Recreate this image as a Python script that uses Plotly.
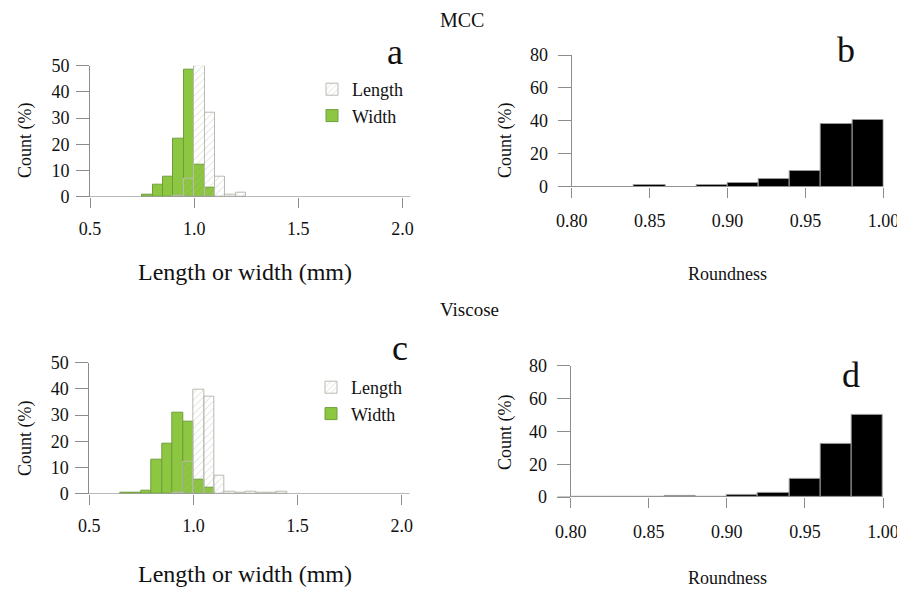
import plotly.graph_objects as go

# ---------------- data ----------------
# Panel a (MCC) : length / width histograms, bin width 0.05 mm, value = count (%)
mcc_width_bins = [0.75, 0.80, 0.85, 0.90, 0.95, 1.00, 1.05]
mcc_width_pct = [0.8, 4.5, 7.6, 22.3, 48.6, 12.4, 3.6]
mcc_length_bins = [0.90, 0.95, 1.00, 1.05, 1.10, 1.15, 1.20]
mcc_length_pct = [0.5, 7.0, 50.0, 32.2, 7.6, 0.6, 1.5]

# Panel c (Viscose)
vis_width_bins = [0.65, 0.70, 0.75, 0.80, 0.85, 0.90, 0.95, 1.00, 1.05]
vis_width_pct = [0.2, 0.3, 1.3, 12.9, 19.0, 31.1, 27.3, 5.5, 2.3]
vis_length_bins = [0.90, 0.95, 1.00, 1.05, 1.10, 1.15, 1.20, 1.25, 1.30, 1.35, 1.40]
vis_length_pct = [0.3, 12.2, 39.6, 37.0, 7.0, 0.8, 0.3, 0.8, 0.3, 0.3, 0.8]

size_bin_width = 0.05

# Panels b / d : roundness histograms, bin width 0.02
round_bins = [0.80, 0.82, 0.84, 0.86, 0.88, 0.90, 0.92, 0.94, 0.96, 0.98]
mcc_round_pct = [0.0, 0.0, 1.2, 0.0, 1.0, 2.0, 4.5, 9.7, 38.1, 40.5]
vis_round_pct = [0.0, 0.2, 0.0, 0.5, 0.0, 1.2, 2.6, 10.8, 32.3, 50.0]
round_bin_width = 0.02

size_ticks = [0.5, 1.0, 1.5, 2.0]
size_yticks = [0, 10, 20, 30, 40, 50]
round_ticks = [0.80, 0.85, 0.90, 0.95, 1.00]
round_yticks = [0, 20, 40, 60, 80]

# ---------------- style ----------------
W, H = 905, 591
OFF = 8  # page body margin offset in the rendered page
FONT = "Liberation Serif"
GREEN = "#8DC641"
GREEN_EDGE = "#6E9E3C"
HATCH = "rgba(130,140,120,0.75)"
HATCH_EDGE = "#B8BBB0"
AXIS = "#8C8C8C"


def px_x(p):
    return (p - OFF) / W


def px_y(p):
    return 1 - (p - OFF) / H


def centers(bins, w):
    return [b + w / 2 for b in bins]


fig = go.Figure()

# panel a
fig.add_trace(go.Bar(x=centers(mcc_width_bins, size_bin_width), y=mcc_width_pct, width=size_bin_width,
                     marker=dict(color=GREEN, line=dict(color=GREEN_EDGE, width=1)),
                     name="Width", legend="legend", legendrank=2, xaxis="x", yaxis="y"))
fig.add_trace(go.Bar(x=centers(mcc_length_bins, size_bin_width), y=mcc_length_pct, width=size_bin_width,
                     marker=dict(color="rgba(0,0,0,0)", line=dict(color=HATCH_EDGE, width=1),
                                 pattern=dict(shape="/", fgcolor=HATCH, bgcolor="rgba(255,255,255,0)",
                                              size=5, solidity=0.15)),
                     name="Length", legend="legend", legendrank=1, xaxis="x", yaxis="y"))
# panel c
fig.add_trace(go.Bar(x=centers(vis_width_bins, size_bin_width), y=vis_width_pct, width=size_bin_width,
                     marker=dict(color=GREEN, line=dict(color=GREEN_EDGE, width=1)),
                     name="Width", legend="legend2", legendrank=2, xaxis="x3", yaxis="y3"))
fig.add_trace(go.Bar(x=centers(vis_length_bins, size_bin_width), y=vis_length_pct, width=size_bin_width,
                     marker=dict(color="rgba(0,0,0,0)", line=dict(color=HATCH_EDGE, width=1),
                                 pattern=dict(shape="/", fgcolor=HATCH, bgcolor="rgba(255,255,255,0)",
                                              size=5, solidity=0.15)),
                     name="Length", legend="legend2", legendrank=1, xaxis="x3", yaxis="y3"))
# panel b
fig.add_trace(go.Bar(x=centers(round_bins, round_bin_width), y=mcc_round_pct, width=round_bin_width,
                     marker=dict(color="#000000", line=dict(color="#9A9A9A", width=1)),
                     showlegend=False, xaxis="x2", yaxis="y2"))
# panel d
fig.add_trace(go.Bar(x=centers(round_bins, round_bin_width), y=vis_round_pct, width=round_bin_width,
                     marker=dict(color="#000000", line=dict(color="#9A9A9A", width=1)),
                     showlegend=False, xaxis="x4", yaxis="y4"))

tickfont = dict(family=FONT, size=18, color="#111111")


def xax(domain, anchor, rng, ticks, fmt, standoff):
    return dict(domain=domain, anchor=anchor, range=rng, tickvals=ticks, tickformat=fmt,
                showline=False, showgrid=False, zeroline=False, ticks="outside", ticklen=10,
                tickcolor=AXIS, tickwidth=1, tickfont=tickfont, ticklabelstandoff=standoff,
                automargin=False, fixedrange=True)


def yax(domain, anchor, rng, ticks, standoff):
    return dict(domain=domain, anchor=anchor, range=rng, tickvals=ticks,
                showline=True, linecolor=AXIS, linewidth=1, showgrid=False, zeroline=False,
                ticks="outside", ticklen=13, tickcolor=AXIS, tickwidth=1, tickfont=tickfont,
                ticklabelstandoff=standoff, automargin=False, fixedrange=True)


layout = dict(
    width=W, height=H, margin=dict(l=0, r=0, t=0, b=0, pad=0, autoexpand=False),
    paper_bgcolor="white", plot_bgcolor="white", barmode="overlay", bargap=0,
    font=dict(family=FONT, color="#111111"),
    xaxis=xax([px_x(90), px_x(402.5)], "y", [0.5, 2.0], size_ticks, ".1f", 6),
    yaxis=yax([px_y(196.7), px_y(65.7)], "x", [0, 50], size_yticks, 3),
    xaxis2=xax([px_x(571.7), px_x(883.5)], "y2", [0.8, 1.0], round_ticks, ".2f", 8),
    yaxis2=yax([px_y(186.7), px_y(55)], "x2", [0, 80], round_yticks, 6),
    xaxis3=xax([px_x(89.3), px_x(401.7)], "y3", [0.5, 2.0], size_ticks, ".1f", 6),
    yaxis3=yax([px_y(493.7), px_y(362.7)], "x3", [0, 50], size_yticks, 3),
    xaxis4=xax([px_x(570.7), px_x(883)], "y4", [0.8, 1.0], round_ticks, ".2f", 8),
    yaxis4=yax([px_y(497), px_y(365.9)], "x4", [0, 80], round_yticks, 6),
    legend=dict(x=px_x(312), y=px_y(71), xanchor="left", yanchor="top",
                bgcolor="rgba(0,0,0,0)", font=dict(family=FONT, size=18, color="#111111")),
    legend2=dict(x=px_x(311), y=px_y(369), xanchor="left", yanchor="top",
                 bgcolor="rgba(0,0,0,0)", font=dict(family=FONT, size=18, color="#111111")),
)
fig.update_layout(**layout)

# baselines at y = 0
for xr, yr, x1 in [("x", "y", 1.025), ("x2", "y2", 1.0), ("x3", "y3", 1.025), ("x4", "y4", 1.0)]:
    fig.add_shape(type="line", xref=xr + " domain", yref=yr, x0=-0.042, x1=x1, y0=0, y1=0,
                  line=dict(color=AXIS, width=1), layer="above")


def ann(text, x, y, size, angle=0):
    fig.add_annotation(text=text, x=px_x(x), y=px_y(y), xref="paper", yref="paper",
                       showarrow=False, textangle=angle, xanchor="center", yanchor="middle",
                       font=dict(family=FONT, size=size, color="#111111"))


ann("MCC", 462, 20, 20)
ann("Viscose", 470, 309, 19)
ann("a", 395, 52, 36)
ann("b", 846, 50, 36)
ann("c", 400, 348, 36)
ann("d", 851, 375, 36)
ann("Length or width (mm)", 245, 272, 24)
ann("Length or width (mm)", 245, 574, 24)
ann("Count (%)", 25, 140, 18, -90)
ann("Count (%)", 25, 438, 18, -90)
ann("Count (%)", 505, 140, 18, -90)
ann("Count (%)", 505, 432, 18, -90)
ann("Roundness", 727, 274, 18)
ann("Roundness", 727, 578, 18)

fig.write_html("out.html")
